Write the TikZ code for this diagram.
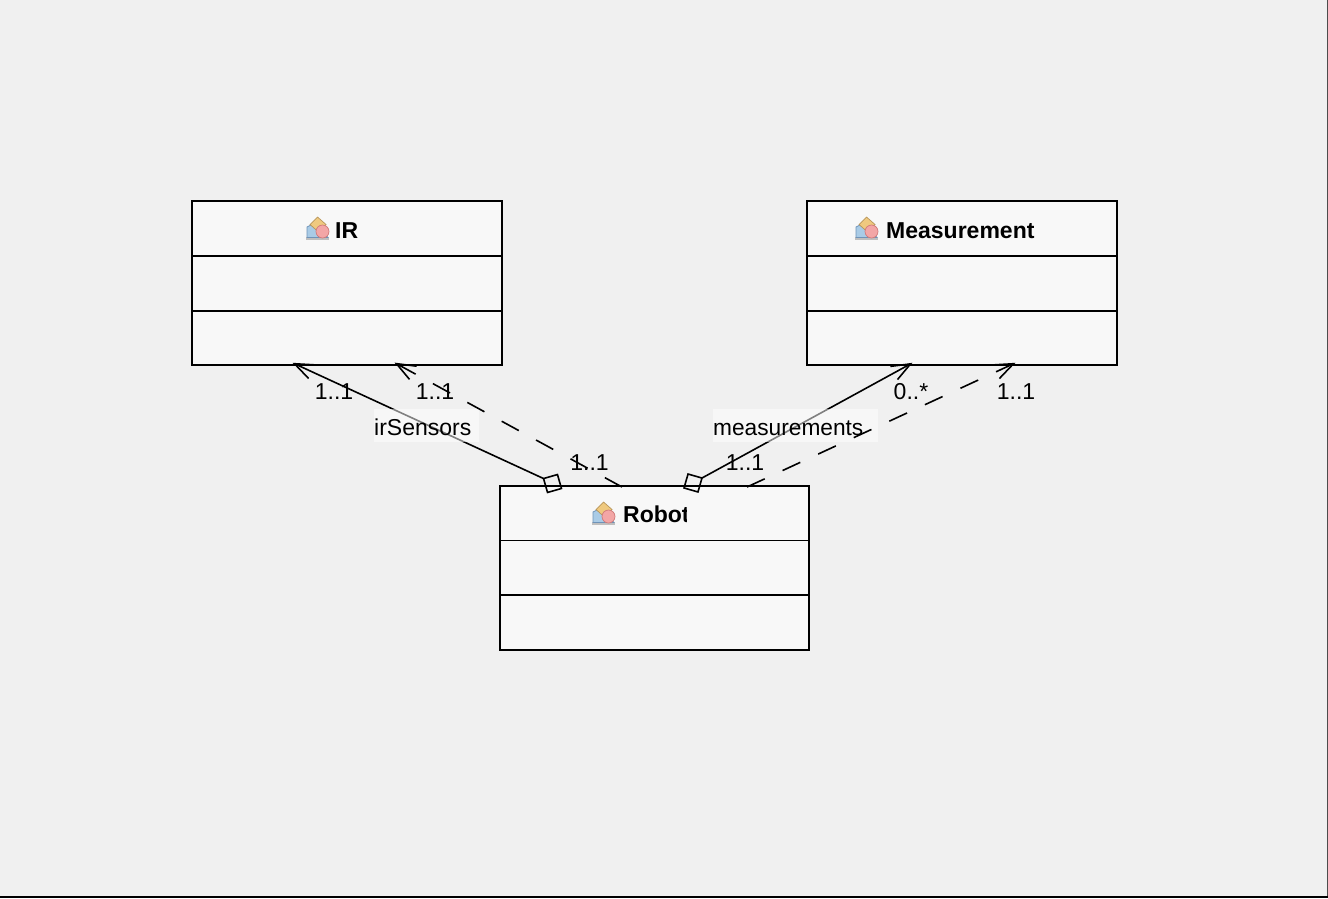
\documentclass[tikz,border=0pt]{standalone}
\usepackage{fontspec}
\setmainfont{Liberation Sans}
\usetikzlibrary{arrows.meta,calc}
\definecolor{pagebg}{HTML}{F0F0F0}
\definecolor{boxbg}{HTML}{F8F8F8}
\definecolor{iconblue}{HTML}{A9CBE6}
\definecolor{iconblueedge}{HTML}{6F93B8}
\definecolor{icontan}{HTML}{EFC97F}
\definecolor{icontanedge}{HTML}{B9965A}
\definecolor{iconpink}{HTML}{F3A6A6}
\definecolor{iconpinkedge}{HTML}{D07A7A}
\tikzset{
  x=1pt,y=-1pt,
  classbox/.style={draw=black,fill=boxbg,line width=1.7pt,minimum width=310pt,minimum height=164pt,inner sep=0pt,outer sep=0pt},
  divider/.style={line width=1.7pt},
  divthin/.style={line width=1pt},
  title/.style={font=\fontsize{23}{23}\selectfont\bfseries,anchor=base west,inner sep=0pt},
  mult/.style={font=\fontsize{23}{23}\selectfont,inner sep=0pt},
  rolelabel/.style={font=\fontsize{23}{23}\selectfont,fill=white,fill opacity=.5,text opacity=1,anchor=west,inner sep=0pt,text height=26pt,text depth=7pt},
  aggdia/.style={draw=black,line width=1.6pt,minimum size=14.5pt,inner sep=0pt,outer sep=0pt},
  assoc/.style={line width=1.6pt,-{Straight Barb[length=19pt,width=15pt,line width=1.6pt]}},
  dep/.style={assoc,dash pattern=on 19.5pt off 19.7pt},
  pics/classicon/.style={code={
    \fill[gray!50] (0,20)--(23,20)--(23,23)--(0,23)--cycle;
    \fill[iconblue,draw=iconblueedge,line width=.7pt] (1,20.5)--(1,10)--(9,6)--(22,20.5)--cycle;
    \fill[icontan,draw=icontanedge,line width=.7pt] (11.5,0)--(20,7.5)--(12.5,15)--(4,7.5)--cycle;
    \fill[iconpink,draw=iconpinkedge,line width=.7pt] (16.5,14.5) circle (6.5pt);
  }}
}
\begin{document}
\begin{tikzpicture}
\useasboundingbox (0,0) rectangle (1328,898);
\fill[pagebg] (0,0) rectangle (1328,898);
\draw[black!70,line width=1pt] (1327.5,0)--(1327.5,896);
\fill[black] (0,896) rectangle (1328,898);

% classes
\node[classbox] (ir) at (347,283) {};
\node[classbox] (meas) at (962,283) {};
\node[classbox,minimum width=309pt] (robot) at (654.5,568) {};
\draw[divider] (192,256)--(502,256) (192,311)--(502,311);
\draw[divider] (807,256)--(1117,256) (807,311)--(1117,311);
\draw[divthin] (500,540.5)--(809,540.5);
\draw[divider] (500,595)--(809,595);
\pic at (306,217) {classicon};
\pic at (855,217) {classicon};
\pic at (592,502) {classicon};
\node[title] (irname) at (335,238) {IR};
\node[title] (measname) at (886,238) {Measurement};
\begin{scope}
\clip (600,495) rectangle (686.5,535);
\node[title] (robotname) at (623,522) {Robot};
\end{scope}

% connector ends
\coordinate (irsolid) at (292.5,362.8);
\coordinate (irdash) at (394.5,362.6);
\coordinate (meassolid) at (912.5,362.8);
\coordinate (measdash) at (1015.5,362.8);
\coordinate (robotdashl) at (622,487);
\coordinate (robotdashr) at (747,487);
\node[aggdia,rotate=16] (dial) at (552.5,483.5) {};
\node[aggdia,rotate=-16] (diar) at (693,483) {};

% aggregations, seen through the translucent role labels
\draw[assoc] (dial.north west) -- (irsolid);
\draw[assoc] (diar.north east) -- (meassolid);
\node[rolelabel,text width=105pt] (irrole) at (374,425.5) {irSensors};
\node[rolelabel,text width=165pt] (measrole) at (713,425.5) {\fontsize{22.7}{23}\selectfont measurements};

% dependencies
\draw[dep] (robotdashl) -- (irdash);
\draw[dep] (robotdashr) -- (measdash);

% multiplicities
\node[mult] (m1) at (334,392) {1..1};
\node[mult] (m2) at (435,392) {1..1};
\node[mult] (m3) at (589.5,463) {1..1};
\node[mult] (m4) at (745,463) {1..1};
\node[mult] (m5) at (911,392) {0..*};
\node[mult] (m6) at (1016,392) {1..1};
\end{tikzpicture}
\end{document}
